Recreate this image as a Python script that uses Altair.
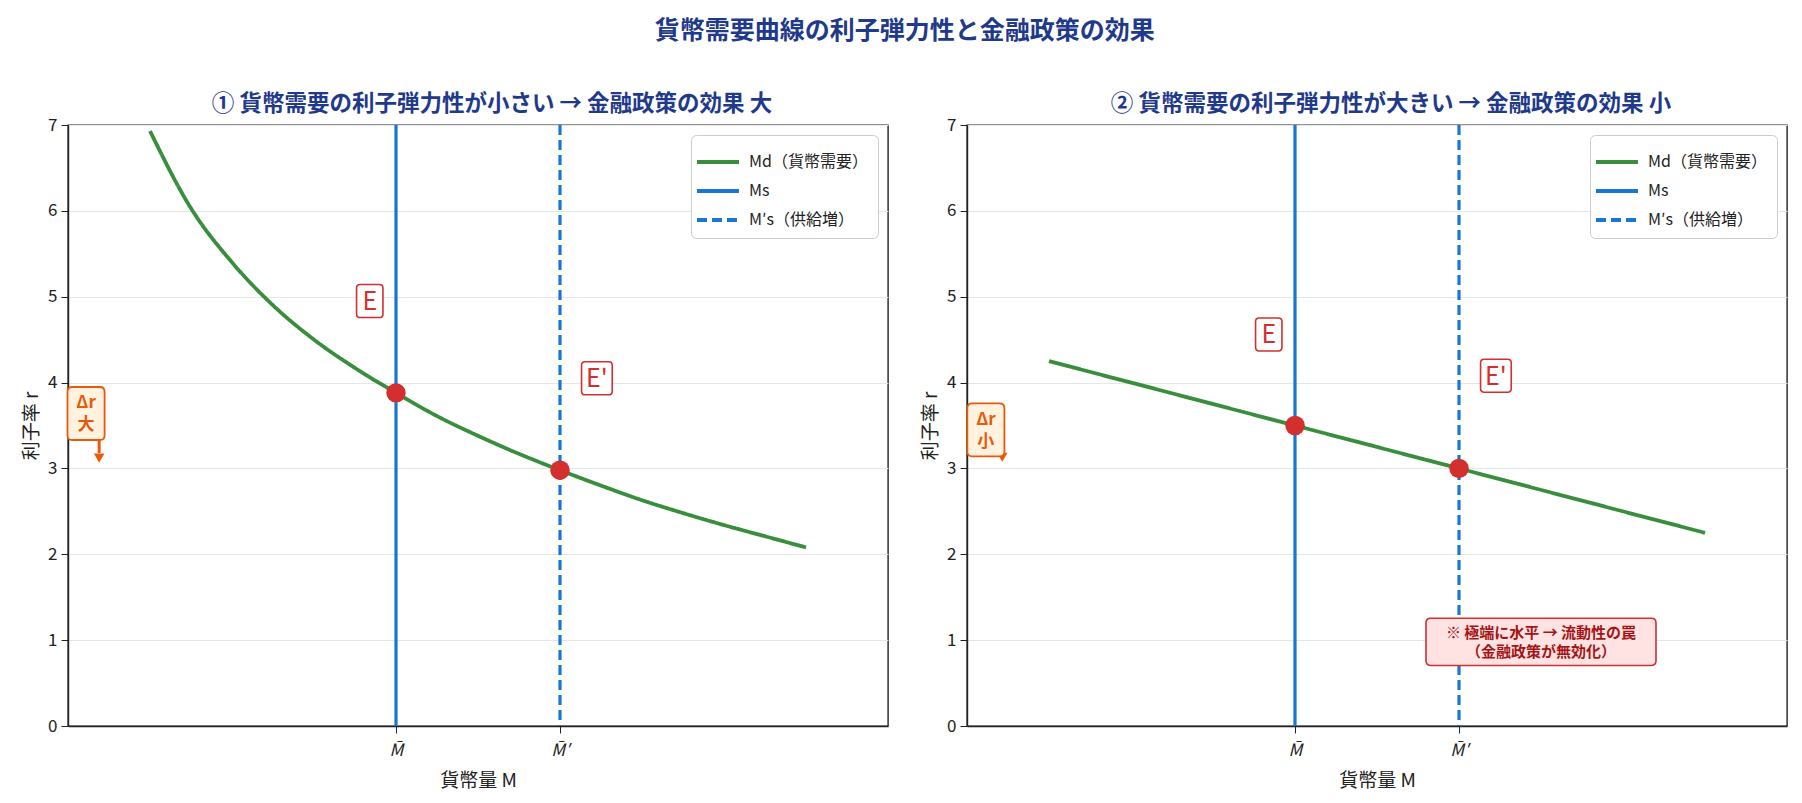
import altair as alt
import pandas as pd

# ---------------- data ----------------
# Panel 1: money demand curve with small interest elasticity (steep)
M_LEFT = [1.0, 1.5, 2.0, 2.5, 3.0, 3.5, 4.0, 4.5, 5.0, 5.5, 6.0, 6.5, 7.0, 7.5, 8.0, 8.5, 9.0]
R_LEFT = [6.93, 6.03, 5.40, 4.90, 4.50, 4.17, 3.88, 3.61, 3.38, 3.17, 2.98, 2.80, 2.63, 2.48, 2.34, 2.21, 2.08]
# Panel 2: money demand curve with large interest elasticity (flat)
M_RIGHT = [1.0, 4.0, 6.0, 9.0]
R_RIGHT = [4.25, 3.50, 3.00, 2.25]

SUPPLY_M = [4, 6]            # M-bar, M-bar'
EQ_R_LEFT = [3.88, 2.98]     # equilibrium r at E, E'
EQ_R_RIGHT = [3.50, 3.00]

SERIES = ["Md（貨幣需要）", "Ms", "M′s（供給増）"]
EQ_LABELS = ["E", "E'"]
DR_TEXT_LEFT = "Δr\n大"
DR_TEXT_RIGHT = "Δr\n小"
TRAP_TEXT = "※ 極端に水平 → 流動性の罠\n（金融政策が無効化）"

TITLE = "貨幣需要曲線の利子弾力性と金融政策の効果"
SUB_LEFT = "① 貨幣需要の利子弾力性が小さい → 金融政策の効果 大"
SUB_RIGHT = "② 貨幣需要の利子弾力性が大きい → 金融政策の効果 小"

# annotation anchors (data units)
LBL_LEFT = {"M": [3.68, 6.45], "r": [4.95, 4.05]}
LBL_RIGHT = {"M": [3.68, 6.45], "r": [4.56, 4.08]}
DR_LEFT = {"box": (0.22, 3.64), "from": 3.60, "tip": 3.12, "x": 0.38}
DR_RIGHT = {"box": (0.23, 3.45), "from": 3.40, "tip": 3.13, "x": 0.43}
TRAP_POS = (7.0, 0.98)

FONT = "Noto Sans CJK JP"
GREEN = "#388e3c"
BLUE = "#1976d2"
RED = "#d32f2f"
ORANGE = "#e8590c"
NAVY = "#1f3a8a"


def rrect(hw, hh, r):
    return (f"M{-hw + r},{-hh} L{hw - r},{-hh} Q{hw},{-hh} {hw},{-hh + r} "
            f"L{hw},{hh - r} Q{hw},{hh} {hw - r},{hh} L{-hw + r},{hh} "
            f"Q{-hw},{hh} {-hw},{hh - r} L{-hw},{-hh + r} Q{-hw},{-hh} {-hw + r},{-hh} Z")


def panel(m_vals, r_vals, eq_r, lbl, dr, dr_text, subtitle, trap):
    xs = alt.X("M:Q", scale=alt.Scale(domain=[0, 10], nice=False, zero=False),
               axis=alt.Axis(values=SUPPLY_M, grid=False, title="貨幣量 M",
                             labelExpr="datum.value == 4 ? 'M̄' : 'M̄′'",
                             labelFontStyle="italic", labelFontSize=17,
                             tickSize=7, labelPadding=9, titlePadding=13))
    ys = alt.Y("r:Q", scale=alt.Scale(domain=[0, 7], nice=False),
               axis=alt.Axis(values=list(range(8)), grid=True, title="利子率 r",
                             format="d", labelFontSize=17, tickSize=7, titlePadding=6))
    cscale = alt.Scale(domain=SERIES, range=[GREEN, BLUE, BLUE])
    dscale = alt.Scale(domain=SERIES, range=[[1, 0], [1, 0], [10, 5]])

    df_line = pd.DataFrame({"M": m_vals, "r": r_vals, "series": SERIES[0]})
    df_rule = pd.DataFrame({"M": SUPPLY_M, "series": SERIES[1:]})
    df_eq = pd.DataFrame({"M": SUPPLY_M, "r": eq_r})
    df_lbl = pd.DataFrame({"M": lbl["M"], "r": lbl["r"], "t": EQ_LABELS})

    color = alt.Color("series:N", scale=cscale, title=None)
    dash = alt.StrokeDash("series:N", scale=dscale, title=None)

    line = alt.Chart(df_line).mark_line(strokeWidth=3.8, interpolate="monotone").encode(
        x=xs, y=ys, color=color, strokeDash=dash)
    rules = alt.Chart(df_rule).mark_rule(strokeWidth=3.2).encode(
        x="M:Q", color=color, strokeDash=dash)
    pts = alt.Chart(df_eq).mark_circle(size=380, color=RED, opacity=1).encode(x="M:Q", y="r:Q")

    box_e = alt.Chart(df_lbl.iloc[[0]]).mark_point(
        shape=rrect(0.8, 1, 0.22), size=1089, filled=True, fill="white",
        stroke=RED, strokeWidth=1.6, opacity=1).encode(x="M:Q", y="r:Q")
    box_e2 = alt.Chart(df_lbl.iloc[[1]]).mark_point(
        shape=rrect(0.93, 1, 0.22), size=1089, filled=True, fill="white",
        stroke=RED, strokeWidth=1.6, opacity=1).encode(x="M:Q", y="r:Q")
    txt_e = alt.Chart(df_lbl).mark_text(fontSize=25, color=RED, font=FONT, dy=1).encode(
        x="M:Q", y="r:Q", text="t:N")

    df_arrow = pd.DataFrame({"M": [dr["x"]], "r": [dr["from"]], "r2": [dr["tip"] + 0.06]})
    df_tip = pd.DataFrame({"M": [dr["x"]], "r": [dr["tip"]]})
    df_drbox = pd.DataFrame({"M": [dr["box"][0]], "r": [dr["box"][1]], "t": [dr_text]})
    arrow = alt.Chart(df_arrow).mark_rule(color=ORANGE, strokeWidth=3).encode(
        x="M:Q", y="r:Q", y2="r2:Q")
    tip = alt.Chart(df_tip).mark_point(shape="triangle-down", size=110, filled=True,
                                        color=ORANGE, opacity=1).encode(x="M:Q", y="r:Q")
    drbox = alt.Chart(df_drbox).mark_point(
        shape=rrect(0.70, 1, 0.18), size=2809, filled=True, fill="#fff3e0",
        stroke=ORANGE, strokeWidth=1.8, opacity=1).encode(x="M:Q", y="r:Q")
    drtxt = alt.Chart(df_drbox).mark_text(
        fontSize=17, fontWeight="bold", color=ORANGE, font=FONT, lineBreak="\n",
        lineHeight=22, dy=-10).encode(x="M:Q", y="r:Q", text="t:N")

    layers = [line, rules, pts, box_e, box_e2, txt_e, arrow, tip, drbox, drtxt]

    if trap:
        df_trap = pd.DataFrame({"M": [TRAP_POS[0]], "r": [TRAP_POS[1]], "t": [TRAP_TEXT]})
        tbox = alt.Chart(df_trap).mark_point(
            shape=rrect(1, 0.205, 0.04), size=52900, filled=True, fill="#ffe3e3",
            stroke=RED, strokeWidth=1.6, opacity=1).encode(x="M:Q", y="r:Q")
        ttxt = alt.Chart(df_trap).mark_text(
            fontSize=15, fontWeight="bold", color="#a31515", font=FONT, lineBreak="\n",
            lineHeight=19, dy=-9).encode(x="M:Q", y="r:Q", text="t:N")
        layers += [tbox, ttxt]

    return alt.layer(*layers).properties(
        width=820, height=601,
        title=alt.TitleParams(subtitle, fontSize=22.5, fontWeight="bold", color=NAVY,
                              font=FONT, offset=1, anchor="middle", dx=14))


left = panel(M_LEFT, R_LEFT, EQ_R_LEFT, LBL_LEFT, DR_LEFT, DR_TEXT_LEFT, SUB_LEFT, False)
right = panel(M_RIGHT, R_RIGHT, EQ_R_RIGHT, LBL_RIGHT, DR_RIGHT, DR_TEXT_RIGHT, SUB_RIGHT, True)

chart = alt.hconcat(left, right, spacing=31).resolve_scale(
    color="independent", strokeDash="independent"
).resolve_legend(color="independent", strokeDash="independent").properties(
    title=alt.TitleParams(TITLE, fontSize=25, fontWeight="bold", color=NAVY, font=FONT,
                          anchor="middle", offset=48),
    padding={"left": 13, "right": 2, "top": 10, "bottom": 2},
    background="white",
).configure_view(stroke="#222222", strokeWidth=1.4).configure_axis(
    labelFont=FONT, titleFont=FONT, titleFontSize=19, titleFontWeight="normal",
    labelColor="#222222", titleColor="#222222", domainColor="#222222",
    tickColor="#222222", gridColor="#e6e6e6", gridWidth=1.2, domainWidth=1.4,
    labelPadding=4,
).configure_legend(
    orient="top-right", offset=10, fillColor="white", strokeColor="#cccccc",
    cornerRadius=5, padding=10, labelFont=FONT, labelFontSize=16,
    labelColor="#222222", symbolType="M-1.4,0L1.4,0", symbolSize=900,
    symbolStrokeWidth=3.8, labelOffset=14, rowPadding=4,
)

chart.save("out.html", embed_options={"renderer": "svg", "actions": False})
